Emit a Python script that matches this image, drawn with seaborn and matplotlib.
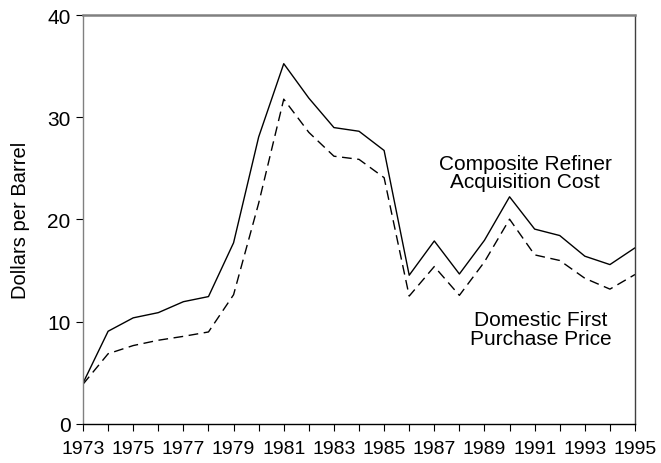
import matplotlib
matplotlib.use("Agg")
import matplotlib.pyplot as plt
import seaborn as sns
import pandas as pd

years = list(range(1973, 1996))
composite_cost = [4.0, 9.07, 10.38, 10.89, 11.96, 12.46, 17.72, 28.07, 35.24, 31.87,
                  28.99, 28.63, 26.75, 14.55, 17.90, 14.67, 17.97, 22.22, 19.06, 18.43,
                  16.41, 15.59, 17.23]
first_purchase = [3.89, 6.87, 7.67, 8.19, 8.57, 9.00, 12.64, 21.59, 31.77, 28.52,
                  26.19, 25.88, 24.09, 12.51, 15.40, 12.58, 15.86, 20.03, 16.54, 15.99,
                  14.25, 13.19, 14.62]
series_names = ["Composite Refiner\nAcquisition Cost", "Domestic First\nPurchase Price"]
y_ticks = [0, 10, 20, 30, 40]
x_labels = [str(y) if (y - 1973) % 2 == 0 else "" for y in years]

df = pd.DataFrame({
    "year": years * 2,
    "price": composite_cost + first_purchase,
    "series": [series_names[0]] * len(years) + [series_names[1]] * len(years),
})

sns.set_style("white")
plt.rcParams["font.family"] = ["Liberation Sans", "DejaVu Sans"]
plt.rcParams["text.color"] = "black"
plt.rcParams["axes.labelcolor"] = "black"
plt.rcParams["xtick.color"] = "black"
plt.rcParams["ytick.color"] = "black"

fig = plt.figure(figsize=(6.61, 4.64), dpi=100)
ax = fig.add_axes([0.1256, 0.0841, 0.8351, 0.8814])

sns.lineplot(data=df, x="year", y="price", style="series",
             dashes={series_names[0]: "", series_names[1]: (7, 4)},
             color="black", linewidth=1.0, legend=False, ax=ax)

ax.set_xlim(1973, 1995)
ax.set_ylim(0, 40)
ax.set_xticks(years)
ax.set_xticklabels(x_labels, fontsize=14)
ax.set_yticks(y_ticks)
ax.set_yticklabels([str(v) for v in y_ticks], fontsize=15)
ax.tick_params(axis="both", direction="out", length=4.8, width=0.8,
               colors="black", bottom=True, left=True)
ax.tick_params(axis="x", pad=7.0)
ax.tick_params(axis="y", pad=4.2)
ax.set_xlabel("")
ax.set_ylabel("Dollars per Barrel", fontsize=14.5, labelpad=12)

for side in ["top", "left", "right", "bottom"]:
    ax.spines[side].set_visible(True)
ax.spines["top"].set_color("#808080")
ax.spines["top"].set_linewidth(1.8)
ax.spines["left"].set_color("#808080")
ax.spines["left"].set_linewidth(1.0)
ax.spines["right"].set_color("#404040")
ax.spines["right"].set_linewidth(1.0)
ax.spines["bottom"].set_color("black")
ax.spines["bottom"].set_linewidth(1.0)

ax.text(1990.62, 24.6, series_names[0], ha="center", va="center",
        fontsize=15, linespacing=0.95)
ax.text(1991.25, 9.3, series_names[1], ha="center", va="center",
        fontsize=15, linespacing=0.95)

fig.savefig("out.png", dpi=100)
